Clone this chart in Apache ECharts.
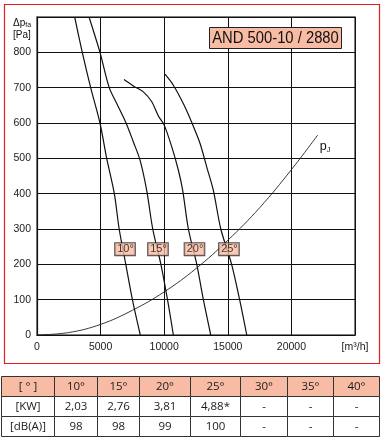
<!DOCTYPE html>
<html><head><meta charset="utf-8">
<script src="https://cdn.jsdelivr.net/npm/echarts@6/dist/echarts.min.js"></script>
<style>html,body{margin:0;padding:0;background:#fff}#c{width:382px;height:440px}</style>
</head><body><div id="c"></div>
<script>
// ---- data ----
const curve10 = [[2960,900],[3560,800],[4220,700],[4950,600],[5480,500],[6080,400],[6460,300],[6980,200],[7500,100],[8120,0]];
const curve15 = [[4090,900],[4950,800],[5680,700],[6270,655],[7000,600],[7570,547],[8100,495],[8620,410],[9100,300],[9740,200],[10260,100],[10720,0]];
const curve20 = [[6840,723],[7570,705],[8360,688],[9020,660],[9540,620],[10000,594],[10590,533],[11110,467],[11450,410],[11900,300],[12560,200],[13080,100],[13660,0]];
const curve25 = [[10060,738],[10720,707],[11500,655],[12160,602],[12820,542],[13340,476],[13860,410],[14450,300],[15300,200],[15930,100],[16490,0]];
const curvePJ = [[0,0],[2500,7],[5000,30],[7500,70],[10000,122],[12500,188],[15000,268],[17500,360],[20000,468],[22070,566]];
const angleLabels = ['10°','15°','20°','25°'];
const angleLabelFlow = [6920,9510,12380,15090];
const angleLabelPressure = [243,243,243,243];
const xMax = 25000, xStep = 5000, yMax = 900, yStep = 100;
const xUnit = '[m³/h]';
const title = 'AND 500-10 / 2880';
const tableHeader = ['[ ° ]','10°','15°','20°','25°','30°','35°','40°'];
const rowKW = ['[KW]','2,03','2,76','3,81','4,88*','-','-','-'];
const rowDB = ['[dB(A)]','98','98','99','100','-','-','-'];

// ---- layout ----
const SALMON = '#F8BCA4';
const FONT = "'Liberation Sans', Arial, sans-serif";
const colEdges = [1.5,54.5,97.5,139.5,190.5,240.5,287.5,333.5,379.5];
const rowEdges = [376.5,396.5,416.5,436.5];

const chart = echarts.init(document.getElementById('c'), null, {renderer:'canvas'});

const lineSeries = (data, w, col) => ({
  type:'line', data, smooth:0.3, showSymbol:false, symbol:'none', silent:true,
  lineStyle:{color:col||'#111', width:w||1.2}, z:3, clip:true
});

const graphic = [];
// red frame
graphic.push({type:'rect', shape:{x:4.5,y:4.5,width:375,height:359}, style:{fill:null, stroke:'#E31E24', lineWidth:1.2}, z:100});
// title box
graphic.push({type:'rect', shape:{x:209.5,y:27.5,width:132,height:21}, style:{fill:SALMON, stroke:'#222', lineWidth:1}, z:50});
graphic.push({type:'text', x:275.5, y:38.5, scaleX:0.87, style:{text:title, fill:'#111', font:"17px 'Liberation Sans', Arial", align:'center', verticalAlign:'middle'}, z:51});
// y axis name
graphic.push({type:'text', x:13, y:17, style:{text:'{a|Δp}{s|fa}\n{a|[Pa]}', rich:{a:{fontSize:10, fontFamily:FONT, fill:'#111', lineHeight:12}, s:{fontSize:7, fontFamily:FONT, fill:'#111', verticalAlign:'bottom', padding:[4,0,0,0]}}}, z:50});
// table
const rows = [tableHeader,rowKW,rowDB];
rows.forEach((row,r)=>{
  row.forEach((txt,c)=>{
    const x0=colEdges[c], x1=colEdges[c+1], y0=rowEdges[r], y1=rowEdges[r+1];
    graphic.push({type:'rect', shape:{x:x0,y:y0,width:x1-x0,height:y1-y0}, style:{fill:r===0?SALMON:'#fff', stroke:'#333', lineWidth:1}, z:40});
    graphic.push({type:'text', x:(x0+x1)/2, y:(y0+y1)/2+0.5, style:{text:txt, fill:'#1a1a1a', font:"11.5px 'Open Sans', 'Noto Sans', sans-serif", align:'center', verticalAlign:'middle'}, z:41});
  });
});

const option = {
  animation:false,
  backgroundColor:'#fff',
  grid:{left:37, right:27, top:17, bottom:105, containLabel:false, outerBoundsMode:'none', show:true, borderColor:'#555', borderWidth:1.5, backgroundColor:'transparent'},
  xAxis:{type:'value', min:0, max:xMax, interval:xStep,
    axisLine:{show:true, onZero:false, lineStyle:{color:'#111', width:1.2}},
    axisTick:{show:false},
    splitLine:{show:true, lineStyle:{color:'#111', width:1}},
    axisLabel:{show:true, color:'#1a1a1a', fontFamily:FONT, fontSize:10.5, margin:7, showMaxLabel:true, showMinLabel:true,
      formatter:v=> v===xMax ? xUnit : String(v)}
  },
  yAxis:{type:'value', min:0, max:yMax, interval:yStep,
    axisLine:{show:true, onZero:false, lineStyle:{color:'#111', width:1.2}},
    axisTick:{show:false},
    splitLine:{show:true, lineStyle:{color:'#111', width:1}},
    axisLabel:{show:true, color:'#1a1a1a', fontFamily:FONT, fontSize:10.5, margin:6,
      formatter:v=> v===yMax ? '' : String(v)}
  },
  series:[
    lineSeries(curve10), lineSeries(curve15), lineSeries(curve20), lineSeries(curve25),
    Object.assign(lineSeries(curvePJ, 0.9, '#222'), {smooth:0.4, label:{show:false},
      markPoint:{symbol:'circle', symbolSize:0, silent:true,
        data:[{coord:curvePJ[curvePJ.length-1], label:{show:true, position:'right', offset:[-3,12],
          formatter:'{p|p}{j|J}', rich:{p:{fontSize:12.5, fontFamily:FONT, color:'#111'}, j:{fontSize:7.5, fontFamily:FONT, color:'#111', verticalAlign:'bottom', padding:[5,0,0,0]}}}}]}}),
    {type:'scatter', silent:true, z:10, symbolSize:0,
      data: angleLabels.map((t,i)=>({value:[angleLabelFlow[i], angleLabelPressure[i]], name:t})),
      label:{show:true, position:'inside', formatter:p=>p.name,
        fontSize:11, fontFamily:FONT, color:'#111', lineHeight:11,
        backgroundColor:SALMON, borderColor:'#222', borderWidth:1, padding:[1,1,0,2]}
    }
  ],
  graphic
};
chart.setOption(option);
</script></body></html>
